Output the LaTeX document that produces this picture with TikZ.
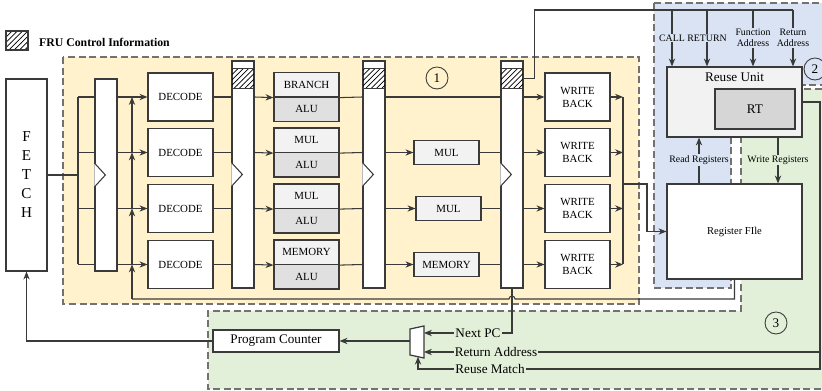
\documentclass[tikz,border=0pt]{standalone}
\usepackage{fontspec}
\setmainfont{Liberation Serif}
\usetikzlibrary{arrows.meta,positioning,calc,patterns}

\definecolor{fruyellow}{HTML}{FFF2CC}
\definecolor{frublue}{HTML}{DAE3F3}
\definecolor{frugreen}{HTML}{E2F0D9}
\definecolor{regiongray}{HTML}{767171}
\definecolor{linegray}{HTML}{3A3A3A}
\definecolor{cellgray}{HTML}{F2F2F2}
\definecolor{alugray}{HTML}{E0E0E0}
\definecolor{rtgray}{HTML}{D6D6D6}

\begin{document}
\begin{tikzpicture}[x=0.02cm, y=-0.02cm,
    box/.style={draw=linegray, fill=white, line width=0.7pt, minimum width=1.3cm, minimum height=0.96cm, align=center, inner sep=1pt, font=\fontsize{6.2}{7.4}\selectfont},
    cell/.style={box, minimum height=0.49cm},
    reg/.style={draw=linegray, fill=white, line width=0.7pt, minimum width=0.44cm, inner sep=0pt},
    wire/.style={draw=linegray, line width=0.6pt},
    arr/.style={wire, -{Stealth[length=4.5pt, width=3.6pt]}},
    region/.style={draw=regiongray, dash pattern=on 4pt off 2pt, line width=0.8pt},
    num/.style={circle, draw=linegray, line width=0.5pt, minimum size=0.44cm, inner sep=0pt, font=\fontsize{7.5}{9}\selectfont},
    lbl/.style={inner sep=0.6pt, align=center, font=\fontsize{5.6}{6.4}\selectfont},
    biglbl/.style={inner sep=0.6pt, font=\fontsize{7.5}{9}\selectfont}
]
\useasboundingbox (0,0) rectangle (822,391);

% regions
\filldraw[region, fill=fruyellow] (63,57) rectangle (639,304);
\filldraw[region, fill=frublue] (654,3) -- (826,3) -- (826,85) -- (731,85) -- (731,288) -- (654,288) -- cycle;
\filldraw[region, fill=frugreen] (741,89) -- (826,89) -- (826,389) -- (208,389) -- (208,311) -- (741,311) -- cycle;

% legend
\node[draw=linegray, line width=0.6pt, pattern=north east lines, minimum width=0.44cm, minimum height=0.38cm, inner sep=0pt] (swatch) at (17,40.5) {};
\node[anchor=west, font=\bfseries\fontsize{6.7}{8}\selectfont] (legend) at (33,42) {FRU Control Information};

% fetch and pipeline registers
\node[box, minimum width=0.82cm, minimum height=3.84cm, font=\fontsize{8.6}{10.8}\selectfont] (fetch) at (26.5,175) {F\\E\\T\\C\\H};
\node[reg, minimum height=3.84cm] (r0) at (106,175) {};
\foreach \n/\x in {r1/243, r2/374, r3/512} {
  \node[reg, minimum height=4.54cm] (\n) at (\x,174.5) {};
  \filldraw[draw=linegray, line width=0.6pt, pattern=north east lines] ($(\n.north west)+(0,8)$) rectangle ($(\n.north east)+(0,28)$);
}
\foreach \n in {r0, r1, r2, r3}
  \draw[wire, fill=white] ($(\n.west)+(0,-12)$) -- ($(\n.west)+(11,0)$) -- ($(\n.west)+(0,12)$);

% stages
\foreach \i/\y/\t in {1/97/BRANCH, 2/152.5/MUL, 3/208.5/MUL, 4/264.5/MEMORY} {
  \node[box] (dec\i) at (180.5,\y) {DECODE};
  \node[cell, fill=cellgray] (fu\i) at (306.5,\y-12.25) {\t};
  \node[cell, fill=alugray] (alu\i) at (306.5,\y+12.25) {ALU};
  \node[box] (wb\i) at (577.5,\y) {WRITE\\BACK};
  \coordinate (fan\i) at (78,\y);
  \coordinate (fbk\i) at (132,\y);
  \coordinate (bus\i) at (623,\y);
}
\node[cell, fill=cellgray, minimum height=0.48cm] (ex2) at (446.5,152.5) {MUL};
\node[cell, fill=cellgray, minimum height=0.48cm] (ex3) at (448.5,208.5) {MUL};
\node[cell, fill=cellgray, minimum height=0.48cm] (ex4) at (446.5,264.5) {MEMORY};

% reuse unit and register file
\node[box, fill=cellgray, minimum width=2.7cm, minimum height=1.4cm] (ru) at (734.5,102) {};
\node[biglbl, below=3pt of ru.north] (rulbl) {Reuse Unit};
\node[box, fill=rtgray, minimum width=1.6cm, minimum height=0.8cm, font=\fontsize{7.5}{9}\selectfont] (rt) at (755,109) {RT};
\node[box, minimum width=2.7cm, minimum height=1.9cm, font=\fontsize{6}{7}\selectfont] (rf) at (734.5,231.5) {Register FIle};

% program counter and mux
\node[box, minimum width=2.52cm, minimum height=0.44cm, font=\fontsize{7.5}{9}\selectfont] (pc) at (276,341) {Program Counter};
\filldraw[draw=linegray, fill=white, line width=0.7pt] (410,329) -- (424,326) -- (424,358) -- (410,355) -- cycle;
\coordinate (muxout) at (410,341);
\coordinate (muxa) at (424,333);
\coordinate (muxb) at (424,352);
\coordinate (muxs) at (418,356.7);

\node[num] (n1) at (437,78) {1};
\node[num, fill=frublue] (n2) at (815,69) {2};
\node[num] (n3) at (776,323) {3};

% fetch fan-out and operand feedback
\coordinate (fb0) at (132,299);
\draw[wire] (fetch.east) -- (78,175);
\draw[wire] (fan1) -- (fan4);
\draw[arr] (fb0) -- (fbk4);
\draw[arr] (fbk4) -- (fbk3);
\draw[arr] (fbk3) -- (fbk2);
\draw[arr] (fbk2) -- (fbk1);
\foreach \i in {1,2,3,4} {
  \draw[wire] (fan\i) -- (r0.west |- dec\i);
  \draw[arr] (r0.east |- dec\i) -- (dec\i);
  \draw[wire] (dec\i) -- (r1.west |- dec\i);
  \draw[arr] (r1.east |- dec\i) -- (fu\i.south west);
  \draw[wire] (fu\i.south east) -- (r2.west |- dec\i);
  \draw[arr] (r3.east |- dec\i) -- (wb\i);
  \draw[arr] (wb\i) -- (bus\i);
}
\draw[wire] (r2.east |- dec1) -- (r3.west |- dec1);
\foreach \i in {2,3,4} {
  \draw[arr] (r2.east |- dec\i) -- (ex\i);
  \draw[wire] (ex\i) -- (r3.west |- dec\i);
}
\draw[wire] (bus1) -- (bus4);
\coordinate (busout) at (623,184);
\draw[arr] (busout) -- ++(24,0) |- (rf.west);

% control information to the reuse unit
\path (r3.north east) ++(0,18) coordinate (tap);
\draw[wire] (tap) -- ++(11,0) |- (793,10);
\foreach \x/\t in {672/CALL, 707/RETURN, 753/{Function\\Address}, 793/{Return\\Address}} {
  \draw[arr] (\x,10) -- (ru.north -| \x,10);
  \node[lbl, fill=frublue] at (\x,38) {\t};
}

% register traffic
\draw[arr] (rf.north -| 699,0) -- (ru.south -| 699,0);
\node[lbl, fill=frublue] (rdlbl) at (699,160) {Read Registers};
\draw[arr] (ru.south -| 778,0) -- (rf.north -| 778,0);
\node[lbl, fill=frugreen] (wrlbl) at (778,160) {Write Registers};
\draw[wire] (rf.south) |- (515,299) arc (0:-180:3) -- (fb0);

% next pc selection
\draw[arr, line width=0.9pt] (ru.east) -| (820,369) -| (muxs);
\draw[arr] (820,352) -- (muxb);
\draw[arr] (r3.south) |- (muxa);
\node[biglbl, fill=frugreen] (npc) at (478,333) {Next PC};
\node[biglbl, fill=frugreen] (retaddr) at (496,352) {Return Address};
\node[biglbl, fill=frugreen] (match) at (490,369) {Reuse Match};
\draw[arr] (muxout) -- (pc);
\draw[arr] (pc.west) -| (fetch.south);
\end{tikzpicture}
\end{document}
